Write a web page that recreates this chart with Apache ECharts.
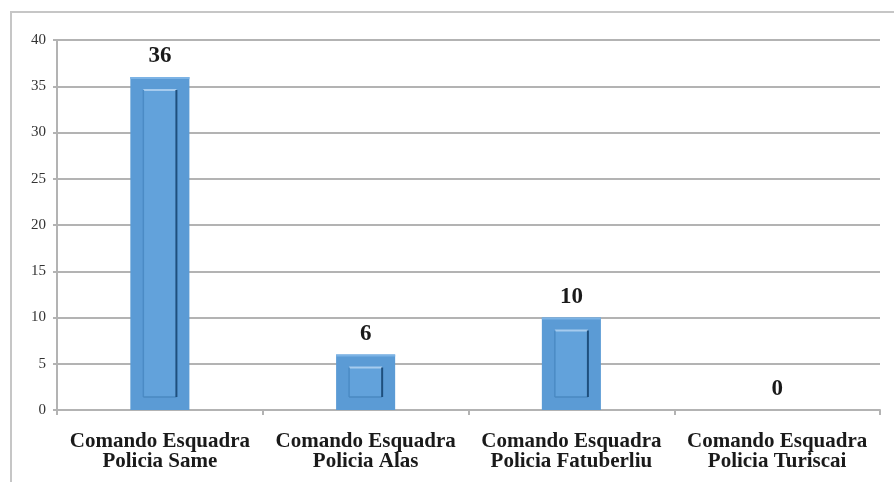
<!DOCTYPE html>
<html>
<head>
<meta charset="utf-8">
<script src="https://cdn.jsdelivr.net/npm/echarts@6/dist/echarts.min.js"></script>
<style>
  html, body { margin: 0; padding: 0; background: #fff; }
  #chart { width: 894px; height: 482px; }
</style>
</head>
<body>
<div id="chart"></div>
<script>
// dados do gráfico
const categories = [
  'Comando Esquadra\nPolicia Same',
  'Comando Esquadra\nPolicia Alas',
  'Comando Esquadra\nPolicia Fatuberliu',
  'Comando Esquadra\nPolicia Turiscai'
];
const values = [36, 6, 10, 0];
const yMin = 0, yMax = 40, yStep = 5;

const serif = 'Liberation Serif';
const gridGrey = '#b3b3b3';
const barRatio = 0.287;

const chart = echarts.init(document.getElementById('chart'));

// efeito "bevel" por cima da barra principal
function bevel(params, api) {
  const v = api.value(1);
  if (!v) return null;
  const top = api.coord([api.value(0), v]);
  const base = api.coord([api.value(0), 0]);
  const w = api.size([1, 0])[0] * barRatio;
  const x0 = top[0] - w / 2;
  const h = base[1] - top[1];
  const b = Math.min(13, h / 4);
  const yt = top[1] + b, yb = base[1] - b;
  const xl = x0 + b, xr = x0 + w - b;
  return {
    type: 'group',
    children: [
      { type: 'rect', shape: { x: x0, y: top[1], width: w, height: 2 },
        style: { fill: '#7cb3e5' } },
      { type: 'rect', shape: { x: xl, y: yt, width: xr - xl, height: yb - yt },
        style: { fill: '#62a2db' } },
      { type: 'line', shape: { x1: xl, y1: yt, x2: xr, y2: yt },
        style: { stroke: '#a6cbee', lineWidth: 2 } },
      { type: 'line', shape: { x1: xl, y1: yt, x2: xl, y2: yb },
        style: { stroke: '#4b8bc5', lineWidth: 1.5 } },
      { type: 'line', shape: { x1: xl, y1: yb, x2: xr, y2: yb },
        style: { stroke: '#4a88c0', lineWidth: 1.5 } },
      { type: 'line', shape: { x1: xr, y1: yt, x2: xr, y2: yb },
        style: { stroke: '#1e4f7d', lineWidth: 2 } }
    ]
  };
}

chart.setOption({
  animation: false,
  backgroundColor: '#fff',
  graphic: [{
    type: 'rect',
    shape: { x: 11, y: 12, width: 1000, height: 1000 },
    style: { fill: 'none', stroke: '#c6c6c6', lineWidth: 2 },
    z: -1
  }],
  grid: { left: 57, right: 14, top: 40, bottom: 72 },
  xAxis: {
    type: 'category',
    data: categories,
    axisLine: { lineStyle: { color: gridGrey, width: 2 } },
    axisTick: { show: true, length: 5, lineStyle: { color: gridGrey, width: 2 } },
    axisLabel: {
      interval: 0,
      margin: 22,
      fontFamily: serif,
      fontSize: 21,
      lineHeight: 20,
      fontWeight: 'bold',
      color: '#1a1a1a'
    }
  },
  yAxis: {
    type: 'value',
    min: yMin,
    max: yMax,
    interval: yStep,
    axisLine: { show: true, lineStyle: { color: gridGrey, width: 2 } },
    axisTick: { show: true, length: 4, lineStyle: { color: gridGrey, width: 2 } },
    axisLabel: { margin: 11, fontFamily: serif, fontSize: 15, color: '#333' },
    splitLine: { lineStyle: { color: gridGrey, width: 2 } }
  },
  series: [
    {
      type: 'bar',
      data: values,
      barWidth: (barRatio * 100) + '%',
      itemStyle: { color: '#5b9bd5' },
      label: {
        show: true,
        position: 'top',
        distance: 9,
        fontFamily: serif,
        fontSize: 23,
        fontWeight: 'bold',
        color: '#1a1a1a'
      }
    },
    {
      type: 'custom',
      renderItem: bevel,
      data: values.map((v, i) => [i, v]),
      encode: { x: 0, y: 1 },
      z: 3,
      silent: true
    }
  ]
});
</script>
</body>
</html>
